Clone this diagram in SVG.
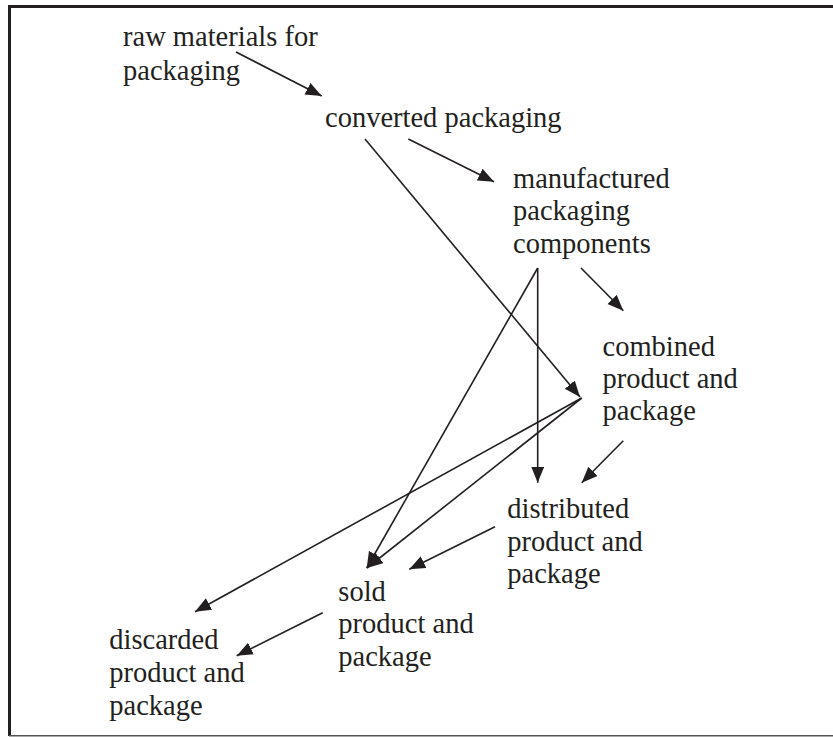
<svg xmlns="http://www.w3.org/2000/svg" width="833" height="737" viewBox="0 0 833 737">
<defs>
<style>
.t{font-family:"Liberation Serif","Times New Roman",serif;font-size:28.5px;fill:#231f20}
.c{stroke:#231f20;stroke-width:1.6;fill:none;marker-end:url(#ah)}
</style>
<marker id="ah" markerUnits="userSpaceOnUse" markerWidth="17" markerHeight="14" refX="16" refY="6.5" orient="auto">
<path d="M0,0 L16,6.5 L0,13 z" fill="#231f20"/>
</marker>
</defs>
<rect width="833" height="737" fill="#fff"/>
<g id="frame">
<line x1="9.5" y1="5" x2="9.5" y2="736" stroke="#231f20" stroke-width="3"/>
<line x1="8" y1="6.5" x2="833" y2="6.5" stroke="#231f20" stroke-width="3"/>
<line x1="9" y1="735.8" x2="833" y2="735.8" stroke="#555" stroke-width="1.6"/>
</g>
<g id="connectors">
<line class="c" x1="236" y1="52" x2="321.7" y2="96"/>
<line class="c" x1="408.3" y1="139" x2="494" y2="181.7"/>
<line class="c" x1="365" y1="139" x2="580" y2="397"/>
<line class="c" x1="581" y1="268" x2="623.3" y2="310.7"/>
<line class="c" x1="537.7" y1="268" x2="537.7" y2="482.7"/>
<line class="c" x1="537.7" y1="268" x2="366.7" y2="568"/>
<line class="c" x1="581.7" y1="398" x2="367" y2="568"/>
<line class="c" x1="581.7" y1="398" x2="195" y2="611.7"/>
<line class="c" x1="623.3" y1="440.7" x2="581.7" y2="482.7"/>
<line class="c" x1="495" y1="526.7" x2="409.3" y2="569.3"/>
<line class="c" x1="322.7" y1="612.7" x2="236.7" y2="655.7"/>
</g>
<g id="raw"><text class="t" x="123" y="46">raw materials for</text><text class="t" x="123" y="80">packaging</text></g>
<g id="converted"><text class="t" x="325" y="127">converted packaging</text></g>
<g id="manufactured"><text class="t" x="513" y="188">manufactured</text><text class="t" x="513" y="220">packaging</text><text class="t" x="513" y="253">components</text></g>
<g id="combined"><text class="t" x="602.5" y="356">combined</text><text class="t" x="602.5" y="388">product and</text><text class="t" x="602.5" y="420">package</text></g>
<g id="distributed"><text class="t" x="507.3" y="518.3">distributed</text><text class="t" x="507.3" y="551">product and</text><text class="t" x="507.3" y="583">package</text></g>
<g id="sold"><text class="t" x="338.3" y="600.7">sold</text><text class="t" x="338.3" y="633.3">product and</text><text class="t" x="338.3" y="665.7">package</text></g>
<g id="discarded"><text class="t" x="109.3" y="649">discarded</text><text class="t" x="109.3" y="682">product and</text><text class="t" x="109.3" y="714.5">package</text></g>
</svg>
